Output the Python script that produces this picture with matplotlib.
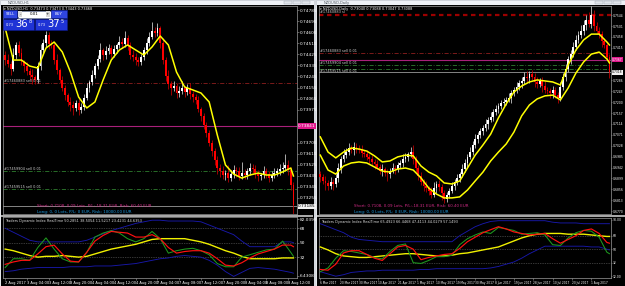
import numpy as np
import matplotlib
matplotlib.use("Agg")
import matplotlib.pyplot as plt
from matplotlib.patches import Rectangle
import matplotlib.transforms as mtransforms

plt.rcParams['font.family'] = ['DejaVu Sans']

# ======================= DATA =======================
# ---- left window: NZDUSD, H1 ----
h1_first_open = 0.74420
h1_close = [0.74380, 0.74350, 0.74310, 0.74420, 0.74500, 0.74440, 0.74360, 0.74330, 0.74290, 0.74260,
            0.74240, 0.74220, 0.74330, 0.74460, 0.74520, 0.74580, 0.74510, 0.74500, 0.74380, 0.74300,
            0.74220, 0.74150, 0.74090, 0.74040, 0.74010, 0.73990, 0.74030, 0.73970, 0.74000, 0.74070,
            0.74150, 0.74200, 0.74260, 0.74330, 0.74390, 0.74460, 0.74420, 0.74450, 0.74480, 0.74430,
            0.74470, 0.74500, 0.74530, 0.74510, 0.74560, 0.74500, 0.74420, 0.74400, 0.74380, 0.74360,
            0.74400, 0.74460, 0.74520, 0.74570, 0.74620, 0.74600, 0.74640, 0.74520, 0.74380, 0.74250,
            0.74180, 0.74150, 0.74170, 0.74110, 0.74130, 0.74150, 0.74120, 0.74150, 0.74100, 0.74080,
            0.74050, 0.73980, 0.73920, 0.73850, 0.73780, 0.73700, 0.73640, 0.73560, 0.73500, 0.73470,
            0.73440, 0.73460, 0.73420, 0.73450, 0.73480, 0.73470, 0.73430, 0.73460, 0.73440, 0.73470,
            0.73500, 0.73490, 0.73460, 0.73430, 0.73440, 0.73470, 0.73450, 0.73420, 0.73440, 0.73460,
            0.73470, 0.73490, 0.73500, 0.73520, 0.73480, 0.73360, 0.73200]
h1_wick_up = [30, 45, 20, 60, 25, 35, 40, 20, 30, 25,
              45, 20, 35, 50, 30, 40, 25, 30, 20, 45,
              15, 30, 25, 20, 40, 35, 20, 30, 25, 30,
              45, 20, 35, 25, 30, 55, 20, 40, 30, 25,
              35, 20, 45, 30, 60, 25, 30, 40, 35, 20,
              30, 25, 40, 35, 70, 30, 45, 20, 35, 25,
              50, 30, 40, 25, 35, 60, 20, 30, 45, 25,
              20, 35, 15, 25, 20, 30, 25, 20, 35, 30,
              45, 25, 60, 30, 40, 25, 35, 90, 30, 25,
              40, 35, 30, 25, 20, 45, 30, 25, 35, 40,
              30, 45, 50, 90, 40, 25, 20]
h1_wick_dn = [40, 25, 50, 20, 35, 30, 25, 45, 30, 40,
              60, 35, 25, 30, 20, 35, 40, 25, 30, 35,
              30, 25, 40, 35, 45, 60, 30, 40, 25, 30,
              20, 35, 25, 30, 20, 25, 40, 30, 25, 35,
              25, 30, 20, 35, 25, 40, 30, 25, 45, 30,
              25, 20, 30, 25, 20, 35, 25, 40, 30, 45,
              35, 60, 25, 40, 30, 25, 45, 30, 35, 40,
              30, 25, 40, 35, 30, 25, 40, 35, 50, 45,
              30, 40, 35, 25, 30, 45, 30, 25, 35, 30,
              25, 30, 40, 35, 30, 25, 35, 40, 30, 25,
              30, 25, 35, 30, 40, 45, 80]
h1_line_idx = list(range(0, 106, 3)) + [106]
h1_ma = [0.74640, 0.74379, 0.74379, 0.74330, 0.74314, 0.74477, 0.74526, 0.74445, 0.74281, 0.74077,
         0.73988, 0.74037, 0.74216, 0.74379, 0.74461, 0.74502, 0.74461, 0.74420, 0.74486, 0.74575,
         0.74502, 0.74281, 0.74159, 0.74135, 0.74110, 0.74037, 0.73767, 0.73523, 0.73449, 0.73416,
         0.73441, 0.73457, 0.73441, 0.73441, 0.73466, 0.73498, 0.73433]
h1_tdi_green = [19, 30, 30, 28, 44, 56, 42, 30, 26, 26, 38, 57, 62, 65, 62, 55, 51, 55, 64, 55,
                37, 40, 42, 43, 40, 35, 24, 20, 20, 32, 35, 38, 41, 42, 52, 38, 33]
h1_tdi_red = [23, 26, 28, 28, 36, 45, 47, 36, 27, 26, 38, 52, 59, 64, 63, 62, 57, 57, 60, 55,
              44, 37, 39, 40, 40, 37, 30, 22, 21, 25, 31, 36, 39, 42, 47, 47, 45]
h1_tdi_base = [42, 40, 37, 34, 32, 33, 33, 34, 33, 32, 33, 36, 39, 42, 44, 46, 48, 51, 54, 55,
               55, 55, 55, 53, 51, 48, 44, 40, 37, 33, 30, 30, 30, 30, 31, 31, 31]
h1_tdi_upper = [68, 63, 58, 53, 51, 51, 51, 51, 51, 51, 53, 57, 61, 65, 68, 71, 74, 76, 78, 78,
                77, 77, 77, 77, 76, 72, 68, 64, 60, 52, 45, 45, 45, 45, 51, 51, 50]
h1_tdi_lower = [14, 15, 17, 18, 19, 19, 19, 19, 20, 20, 20, 21, 21, 21, 22, 23, 24, 26, 28, 30,
                31, 33, 34, 33, 32, 28, 22, 14, 8, 13, 18, 19, 18, 17, 15, 13, 12]
h1_dates = ["2 Aug 2017", "3 Aug 04:00", "3 Aug 12:00", "3 Aug 20:00", "4 Aug 04:00", "4 Aug 12:00",
            "4 Aug 20:00", "7 Aug 04:00", "7 Aug 08:00", "7 Aug 12:00", "7 Aug 20:00", "8 Aug 04:00",
            "8 Aug 08:00", "8 Aug 12:00"]
h1_levels = {"sell_a": 0.74192, "hline": 0.73841, "sell_b": 0.73474, "sell_c": 0.73327, "bid": 0.73185}

# ---- right window: NZDUSD, Daily ----
d1_first_open = 0.6915
d1_close = [0.6905, 0.6890, 0.6880, 0.6870, 0.6885, 0.6875, 0.6900, 0.6940, 0.6975, 0.6990,
            0.7005, 0.7020, 0.7010, 0.7025, 0.7015, 0.7010, 0.7000, 0.6995, 0.6985, 0.6975,
            0.6965, 0.6955, 0.6945, 0.6930, 0.6935, 0.6920, 0.6915, 0.6930, 0.6940, 0.6935,
            0.6950, 0.6960, 0.6975, 0.6985, 0.6995, 0.7005, 0.6975, 0.6940, 0.6910, 0.6885,
            0.6870, 0.6860, 0.6850, 0.6835, 0.6860, 0.6875, 0.6865, 0.6840, 0.6818, 0.6835,
            0.6850, 0.6870, 0.6885, 0.6900, 0.6915, 0.6935, 0.6960, 0.6985, 0.7005, 0.7030,
            0.7055, 0.7070, 0.7085, 0.7100, 0.7115, 0.7130, 0.7140, 0.7160, 0.7175, 0.7185,
            0.7195, 0.7200, 0.7210, 0.7215, 0.7235, 0.7250, 0.7260, 0.7275, 0.7285, 0.7300,
            0.7295, 0.7310, 0.7300, 0.7280, 0.7270, 0.7285, 0.7265, 0.7250, 0.7245, 0.7235,
            0.7250, 0.7230, 0.7215, 0.7260, 0.7300, 0.7330, 0.7370, 0.7390, 0.7420, 0.7445,
            0.7465, 0.7480, 0.7505, 0.7525, 0.7510, 0.7545, 0.7500, 0.7480, 0.7470, 0.7440,
            0.7425, 0.7380, 0.7320]
d1_wick_up = [15, 10, 20, 12, 18, 10, 15, 20, 12, 25,
              15, 20, 10, 18, 12, 15, 20, 10, 15, 12,
              18, 10, 15, 12, 20, 10, 15, 12, 18, 10,
              15, 12, 20, 15, 10, 18, 25, 12, 10, 15,
              12, 18, 10, 15, 25, 12, 18, 10, 15, 12,
              10, 15, 12, 18, 10, 20, 15, 12, 18, 15,
              20, 12, 15, 10, 18, 12, 20, 15, 12, 10,
              15, 18, 12, 20, 15, 10, 18, 12, 15, 20,
              25, 12, 18, 15, 20, 12, 15, 18, 10, 12,
              15, 10, 12, 18, 15, 20, 12, 15, 18, 20,
              15, 25, 20, 18, 30, 35, 20, 15, 18, 12,
              15, 10, 12]
d1_wick_dn = [20, 15, 25, 18, 12, 20, 10, 15, 18, 12,
              10, 15, 12, 20, 15, 10, 18, 12, 15, 20,
              12, 18, 10, 15, 20, 12, 25, 15, 10, 18,
              12, 10, 15, 12, 18, 10, 20, 15, 18, 12,
              20, 15, 18, 12, 10, 20, 15, 25, 18, 12,
              15, 10, 18, 12, 15, 10, 12, 18, 10, 15,
              12, 18, 10, 15, 12, 20, 10, 15, 12, 18,
              10, 15, 12, 10, 18, 12, 15, 10, 20, 12,
              15, 20, 12, 18, 15, 10, 25, 15, 12, 20,
              18, 15, 20, 12, 10, 15, 12, 18, 10, 15,
              12, 10, 15, 20, 12, 15, 18, 12, 15, 20,
              12, 15, 25]
d1_line_idx = list(range(0, 112, 3)) + [112]
d1_env_upper = [0.7063, 0.7003, 0.6980, 0.7003, 0.7019, 0.7015, 0.7007, 0.6988, 0.6964, 0.6968,
                0.6984, 0.6991, 0.6988, 0.6948, 0.6924, 0.6909, 0.6881, 0.6877, 0.6889, 0.6940,
                0.6991, 0.7031, 0.7074, 0.7138, 0.7193, 0.7240, 0.7264, 0.7280, 0.7288, 0.7284,
                0.7280, 0.7268, 0.7347, 0.7406, 0.7446, 0.7469, 0.7469, 0.7438, 0.7426]
d1_env_lower = [0.6991, 0.6932, 0.6916, 0.6948, 0.6960, 0.6964, 0.6960, 0.6944, 0.6928, 0.6924,
                0.6936, 0.6940, 0.6932, 0.6901, 0.6861, 0.6837, 0.6822, 0.6822, 0.6826, 0.6853,
                0.6889, 0.6924, 0.6968, 0.7003, 0.7035, 0.7082, 0.7146, 0.7189, 0.7213, 0.7225,
                0.7228, 0.7209, 0.7256, 0.7315, 0.7359, 0.7390, 0.7398, 0.7371, 0.7355]
d1_tdi_green = [20, 25, 38, 48, 47, 45, 43, 39, 37, 47, 55, 57, 32, 31, 35, 40, 40, 42, 56, 64,
                69, 73, 71, 79, 77, 75, 70, 71, 72, 69, 56, 55, 65, 72, 75, 74, 66, 46, 44]
d1_tdi_red = [23, 22, 30, 45, 48, 48, 43, 38, 35, 44, 53, 55, 50, 36, 39, 41, 43, 44, 51, 60,
              66, 72, 76, 80, 77, 73, 71, 69, 70, 71, 64, 58, 63, 68, 75, 77, 71, 59, 58]
d1_tdi_base = [53, 49, 44, 41, 40, 39, 39, 40, 41, 42, 43, 44, 44, 43, 42, 41, 41, 42, 44, 45,
               47, 49, 51, 53, 57, 61, 65, 68, 70, 71, 71, 71, 70, 70, 70, 69, 68, 67, 67]
d1_tdi_upper = [84, 80, 76, 72, 66, 63, 62, 61, 60, 60, 60, 60, 60, 60, 60, 60, 60, 60, 68, 74,
                80, 84, 87, 88, 88, 88, 88, 88, 88, 88, 86, 85, 85, 85, 84, 84, 84, 84, 84]
d1_tdi_lower = [20, 17, 14, 16, 19, 20, 21, 21, 22, 22, 22, 22, 22, 23, 23, 24, 24, 24, 24, 24,
                24, 24, 25, 27, 30, 33, 38, 44, 49, 54, 54, 54, 54, 54, 54, 53, 53, 50, 49]
d1_dates = ["6 Mar 2017", "20 Mar 2017", "30 Mar 2017", "10 Apr 2017", "21 Apr 2017", "1 May 2017",
            "10 May 2017", "19 May 2017", "30 May 2017", "8 Jun 2017", "19 Jun 2017", "28 Jun 2017",
            "10 Jul 2017", "20 Jul 2017", "1 Aug 2017"]
d1_levels = {"sl": 0.7544, "sell_a": 0.7394, "hline": 0.7367, "sell_b": 0.7347, "sell_c": 0.7333, "bid": 0.7318}

# ======================= FIGURE =======================
W, H = 625, 286
fig = plt.figure(figsize=(W / 100, H / 100), dpi=100)
fig.patch.set_facecolor('#E4E6EA')


def frac(x, y, w, h):
    return [x / W, 1 - (y + h) / H, w / W, h / H]


def box(x, y, w, h, fc, ec='none', lw=0.0, z=-1):
    fig.patches.append(Rectangle((x / W, 1 - (y + h) / H), w / W, h / H, transform=fig.transFigure,
                                 facecolor=fc, edgecolor=ec, linewidth=lw, zorder=z))


def ftext(x, y, s, z=10, **kw):
    fig.text(x / W, 1 - y / H, s, zorder=z, **kw)


# window chrome
for (wx, ww) in ((0, 314), (316, 309)):
    box(wx, 0, ww, 5, '#EEF1F6', ec='#B8BEC8', lw=0.4)
    box(wx + 1, 5, ww - 1, 281, 'black')
    for k in range(3):
        box(wx + ww - 30 + k * 9, 0.5, 8, 3.5, '#E0E4EA', ec='#9CA3AE', lw=0.3, z=1)
box(314, 0, 2, 286, '#D2D6DC')
ftext(8, 2.8, "NZDUSD,H1", fontsize=2.6, color='#505860', va='center')
ftext(324, 2.8, "NZDUSD,Daily", fontsize=2.6, color='#505860', va='center')

# separators between main chart and indicator
box(1, 214.5, 312, 2, '#A8A8A8', z=2)
box(317, 215, 308, 2, '#A8A8A8', z=2)


def draw_candles(ax, first_open, close, wu, wd, unit, minh, width):
    c = np.asarray(close, dtype=float)
    o = np.concatenate([[first_open], c[:-1]])
    up = c >= o
    top = np.maximum(o, c)
    bot = np.minimum(o, c)
    hi = top + np.asarray(wu) * unit
    lo = bot - np.asarray(wd) * unit
    x = np.arange(len(c))
    hgt = np.maximum(top - bot, minh)
    ax.vlines(x[up], lo[up], hi[up], color='#D8D8D8', lw=0.55, zorder=3)
    ax.vlines(x[~up], lo[~up], hi[~up], color='#C80000', lw=0.55, zorder=3)
    ax.bar(x[up], hgt[up], width, bottom=bot[up], color='#FFFFFF', linewidth=0, zorder=4)
    ax.bar(x[~up], hgt[~up], width, bottom=bot[~up], color='#FF0000', linewidth=0, zorder=4)


def style_axes(ax, lsize, tlen=1.2, pad=0.6):
    ax.set_facecolor('black')
    for s in ax.spines.values():
        s.set_color('#9A9A9A')
        s.set_linewidth(0.5)
    ax.yaxis.tick_right()
    ax.tick_params(axis='y', labelcolor='white', color='#9A9A9A', labelsize=lsize,
                   length=tlen, width=0.4, pad=pad)


def axis_box(ax, y, s, fc, tc, size):
    tr = mtransforms.blended_transform_factory(ax.transAxes, ax.transData)
    ax.text(1.004, y, s, transform=tr, fontsize=size, color=tc, va='center', ha='left',
            bbox=dict(boxstyle='square,pad=0.15', fc=fc, ec='none'), zorder=10, clip_on=False)


def line_label(ax, y, s, va='bottom'):
    tr = mtransforms.blended_transform_factory(ax.transAxes, ax.transData)
    ax.text(0.004, y, s, transform=tr, fontsize=2.5, color='#D0D0D0', va=va, ha='left', zorder=6)


def price_ticks(ax, ticks, fmt, avoid, gap):
    keep = [t for t in ticks if all(abs(t - a) > gap for a in avoid)]
    ax.set_yticks(keep)
    ax.set_yticklabels([fmt % t for t in keep])


def draw_tdi(ax, idx, upper, lower, base, green, red, ylim, title, top_lbl, bot_lbl, xlim, dpos, dlabels,
             dsize, lsize, tlen=1.2, pad=0.6):
    style_axes(ax, lsize, tlen, pad)
    ax.set_xlim(*xlim)
    ax.set_ylim(*ylim)
    for lv in (68, 50, 32):
        ax.axhline(lv, color='#6E6E6E', lw=0.5, ls=(0, (1, 1.5)), zorder=1)
    ax.plot(idx, upper, color='#1818A8', lw=0.65, zorder=2)
    ax.plot(idx, lower, color='#1818A8', lw=0.65, zorder=2)
    ax.plot(idx, base, color='#F0F000', lw=1.0, zorder=3)
    ax.plot(idx, green, color='#1E9A1E', lw=0.75, zorder=4)
    ax.plot(idx, red, color='#FF1010', lw=0.85, zorder=5)
    ax.set_yticks([ylim[1] - 2.5, 68, 50, 32, ylim[0] + 2.5])
    ax.set_yticklabels([top_lbl, "68", "50", "32", bot_lbl])
    ax.set_xticks(dpos)
    ax.set_xticklabels(dlabels, ha='left')
    ax.tick_params(axis='x', labelcolor='white', color='#9A9A9A', labelsize=dsize,
                   length=1.5, width=0.4, pad=0.6)
    ax.text(0.006, 0.975, title, transform=ax.transAxes, fontsize=2.5, color='#E0E0E0',
            va='top', ha='left', zorder=6)


# ---------------- left main chart ----------------
axL = fig.add_axes(frac(3, 6, 294, 208))
style_axes(axL, 3.1)
axL.set_xlim(-0.8, 107.3)
axL.set_ylim(0.73123, 0.74820)
axL.set_xticks([])
price_ticks(axL, [0.73165 + 0.0009 * k for k in range(19)], "%.5f",
            [h1_levels["hline"], h1_levels["bid"]], 0.0005)
draw_candles(axL, h1_first_open, h1_close, h1_wick_up, h1_wick_dn, 1e-5, 0.00009, 0.7)
axL.plot(h1_line_idx, h1_ma, color='#FFFF00', lw=1.1, zorder=5)
dd = (0, (5, 2, 1, 2))
axL.axhline(h1_levels["sell_a"], color='#8E1E1E', lw=0.6, ls=dd, zorder=2)
axL.axhline(h1_levels["hline"], color='#A8207A', lw=0.8, zorder=2)
axL.axhline(h1_levels["sell_b"], color='#2E7D2E', lw=0.6, ls=dd, zorder=2)
axL.axhline(h1_levels["sell_c"], color='#2E7D2E', lw=0.6, ls=dd, zorder=2)
axL.axhline(h1_levels["bid"], color='#9A9A9A', lw=0.6, zorder=2)
line_label(axL, h1_levels["sell_a"], "#17460883 sell 0.01")
line_label(axL, h1_levels["sell_b"], "#17459904 sell 0.01")
line_label(axL, h1_levels["sell_c"], "#17459515 sell 0.01")
axis_box(axL, h1_levels["hline"], "%.5f" % h1_levels["hline"], '#E0188C', 'white', 3.1)
axis_box(axL, h1_levels["bid"], "%.5f" % h1_levels["bid"], '#F2F2F2', 'black', 3.1)
axL.text(0.005, 0.995, "\u25be NZDUSD,H1  0.73473 0.73473 0.73443 0.73468", transform=axL.transAxes,
         fontsize=2.5, color='white', va='top', ha='left', zorder=8)
axL.text(0.115, 0.038, "Short: 0.7108, 0.09 Lots, P/L:-18.31 EUR, Risk: 60.40 EUR", transform=axL.transAxes,
         fontsize=2.9, color='#D02C86', va='center', ha='left', zorder=8)
axL.text(0.115, 0.011, "Long: 0, 0 Lots, P/L: 0 EUR, Risk: 10000.00 EUR", transform=axL.transAxes,
         fontsize=2.9, color='#1E9BE0', va='center', ha='left', zorder=8)

# one-click trading panel
blue = '#1F33D6'
box(3, 10.5, 14, 7.5, '#3046E0', ec='#10209A', lw=0.4, z=5)
box(17.5, 10.5, 33, 7, '#FFFFFF', ec='#8090C0', lw=0.4, z=5)
box(18, 11.3, 4, 5.3, '#D8D8D8', z=6)
box(45.5, 11.3, 4, 5.3, '#D8D8D8', z=6)
box(51, 10.5, 15.5, 7.5, '#3046E0', ec='#10209A', lw=0.4, z=5)
box(3, 18.5, 31, 11, blue, ec='#0C1888', lw=0.4, z=5)
box(35, 18.5, 31.5, 11, blue, ec='#0C1888', lw=0.4, z=5)
ftext(10, 14.3, "SELL", fontsize=2.8, color='white', ha='center', va='center', z=7)
ftext(58.7, 14.3, "BUY", fontsize=2.8, color='white', ha='center', va='center', z=7)
ftext(20, 14.2, "-", fontsize=2.8, color='black', ha='center', va='center', z=7)
ftext(47.5, 14.2, "+", fontsize=2.8, color='black', ha='center', va='center', z=7)
ftext(34, 14.3, "0.01", fontsize=2.8, color='black', ha='center', va='center', z=7)
ftext(6, 25.5, "0.73", fontsize=2.6, color='white', ha='left', va='center', z=7)
ftext(15, 24.2, "36", fontsize=7.2, color='white', ha='left', va='center', z=7)
ftext(28.5, 21.3, "8", fontsize=3.6, color='white', ha='left', va='center', z=7)
ftext(38, 25.5, "0.73", fontsize=2.6, color='white', ha='left', va='center', z=7)
ftext(47, 24.2, "37", fontsize=7.2, color='white', ha='left', va='center', z=7)
ftext(60.5, 21.3, "5", fontsize=3.6, color='white', ha='left', va='center', z=7)

# ---------------- left indicator ----------------
axLi = fig.add_axes(frac(3, 217, 294, 61))
draw_tdi(axLi, h1_line_idx, h1_tdi_upper, h1_tdi_lower, h1_tdi_base, h1_tdi_green, h1_tdi_red,
         (6.0, 82.0), "Traders Dynamic Index RealTime 50.2851 38.5054 11.5217 23.4231 44.6353",
         "82.0399", "6.4308", (-0.8, 107.3), [8 * k for k in range(len(h1_dates))], h1_dates, 2.6, 3.1)

# ---------------- right main chart ----------------
axR = fig.add_axes(frac(319, 6, 292, 208))
style_axes(axR, 2.2, 1.0, 0.3)
axR.set_xlim(-0.5, 112.6)
axR.set_ylim(0.67584, 0.75800)
axR.set_xticks([])
price_ticks(axR, [0.6770 + 0.0043 * k for k in range(19)], "%.4f",
            [d1_levels["hline"], d1_levels["bid"]], 0.0025)
draw_candles(axR, d1_first_open, d1_close, d1_wick_up, d1_wick_dn, 1e-4, 0.0004, 0.7)
axR.plot(d1_line_idx, d1_env_upper, color='#FFFF00', lw=1.1, zorder=5)
axR.plot(d1_line_idx, d1_env_lower, color='#FFFF00', lw=1.1, zorder=5)
axR.axhline(d1_levels["sl"], color='#9C0000', lw=1.6, ls=(0, (2, 1.6)), zorder=2)
axR.axhline(d1_levels["sell_a"], color='#8E1E1E', lw=0.6, ls=dd, zorder=2)
axR.axhline(d1_levels["hline"], color='#A8207A', lw=0.8, zorder=2)
axR.axhline(d1_levels["sell_b"], color='#2E7D2E', lw=0.6, ls=dd, zorder=2)
axR.axhline(d1_levels["sell_c"], color='#2E7D2E', lw=0.6, ls=dd, zorder=2)
axR.axhline(d1_levels["bid"], color='#9A9A9A', lw=0.6, zorder=2)
line_label(axR, d1_levels["sl"] + 0.0004, "#17460883 sl")
line_label(axR, d1_levels["sell_a"], "#17460883 sell 0.01")
line_label(axR, d1_levels["sell_b"], "#17459904 sell 0.01")
line_label(axR, d1_levels["sell_c"], "#17459515 sell 0.01", va='top')
axis_box(axR, d1_levels["hline"], "%.4f" % d1_levels["hline"], '#E0188C', 'white', 2.2)
axis_box(axR, d1_levels["bid"], "%.4f" % d1_levels["bid"], '#F2F2F2', 'black', 2.2)
axR.text(0.005, 0.995, "\u25be NZDUSD,Daily  0.73040 0.73088 0.73047 0.73088", transform=axR.transAxes,
         fontsize=2.5, color='white', va='top', ha='left', zorder=8)
axR.text(0.12, 0.038, "Short: 0.7108, 0.09 Lots, P/L:-18.31 EUR, Risk: 60.40 EUR", transform=axR.transAxes,
         fontsize=2.9, color='#D02C86', va='center', ha='left', zorder=8)
axR.text(0.12, 0.011, "Long: 0, 0 Lots, P/L: 0 EUR, Risk: 10000.00 EUR", transform=axR.transAxes,
         fontsize=2.9, color='#1E9BE0', va='center', ha='left', zorder=8)

# ---------------- right indicator ----------------
axRi = fig.add_axes(frac(319, 218, 292, 60))
draw_tdi(axRi, d1_line_idx, d1_tdi_upper, d1_tdi_lower, d1_tdi_base, d1_tdi_green, d1_tdi_red,
         (11.6, 91.6), "Traders Dynamic Index RealTime 65.4923 66.4468 47.4113 44.0279 57.1493",
         "90.00", "12.00", (-0.5, 112.6), [7.5 * k for k in range(len(d1_dates))], d1_dates, 2.1, 2.2,
         1.0, 0.3)

fig.savefig("out.png", dpi=100, facecolor=fig.get_facecolor())
